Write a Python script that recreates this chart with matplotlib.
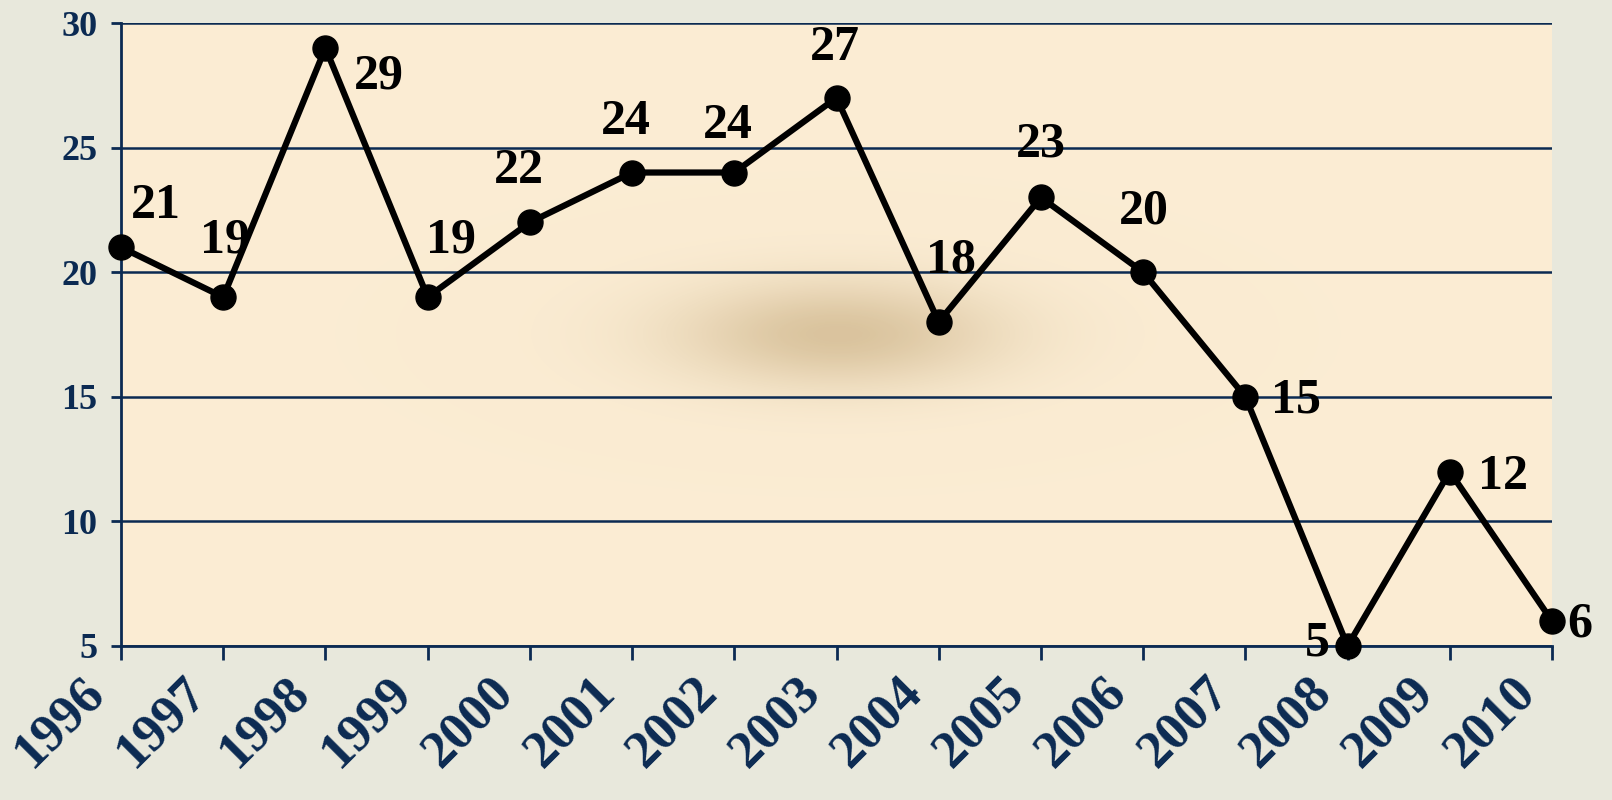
import numpy as np
import matplotlib
matplotlib.use('Agg')
from matplotlib import pyplot as plt
from matplotlib.colors import LinearSegmentedColormap
from matplotlib.transforms import ScaledTranslation

# data
years = [1996, 1997, 1998, 1999, 2000, 2001, 2002, 2003, 2004, 2005, 2006, 2007, 2008, 2009, 2010]
values = [21, 19, 29, 19, 22, 24, 24, 27, 18, 23, 20, 15, 5, 12, 6]
y_ticks = [5, 10, 15, 20, 25, 30]

# label offsets in pixels (dx, dy)
label_offsets = [(35, 41), (2, 57), (53, -29), (23, 57), (-11, 51), (-6, 51), (-6, 47),
                 (-2, 50), (12, 62), (0, 53), (1, 61), (51, -4), (-30, 2), (53, -5), (28, -3)]

navy = '#0b2a52'
plt.rcParams['font.family'] = ['Liberation Serif', 'DejaVu Serif']

fig = plt.figure(figsize=(16.12, 8), dpi=100, facecolor='#e8e8dc')
ax = fig.add_axes([121/1612, 1 - 646/800, (1552-121)/1612, (646-23)/800])
ax.set_facecolor('#fbecd3')

# soft shadow blob in the middle of the plot area
gx, gy = np.meshgrid(np.linspace(0, 1, 300), np.linspace(0, 1, 150))
cx, cy = (838-121)/1431, 1 - (334-23)/623
blob = np.exp(-(((gx-cx)/0.16)**2 + ((gy-cy)/0.12)**2))
cmap = LinearSegmentedColormap.from_list('blob', [(0.98, 0.93, 0.83, 0.0), (0.80, 0.70, 0.53, 0.7)])
ax.imshow(blob, extent=[0, 1, 0, 1], transform=ax.transAxes, origin='lower',
          cmap=cmap, aspect='auto', zorder=0, interpolation='bilinear')

ax.plot(years, values, color='black', lw=4.5, marker='o', markersize=18,
        solid_joinstyle='round', clip_on=False, zorder=5)

for x, v, (dx, dy) in zip(years, values, label_offsets):
    ax.annotate(str(v), (x, v), xytext=(dx, dy), textcoords='offset pixels',
                ha='center', va='center', fontsize=36, fontweight='bold',
                color='black', zorder=6, annotation_clip=False)

ax.set_xlim(1996, 2010)
ax.set_ylim(5, 30)
ax.set_yticks(y_ticks)
ax.set_xticks(years)
ax.set_xticklabels([str(y) for y in years], rotation=45, ha='right',
                   rotation_mode='anchor', fontsize=38, fontweight='bold', color=navy)
ax.set_yticklabels([str(t) for t in y_ticks], fontsize=26, fontweight='bold', color=navy)
ax.tick_params(axis='x', direction='out', length=10, width=2, color=navy, pad=6)
ax.tick_params(axis='y', direction='out', length=7, width=2, color=navy, pad=10)
shift = ScaledTranslation(-0.41, 0.0, fig.dpi_scale_trans)
for lbl in ax.get_xticklabels():
    lbl.set_transform(lbl.get_transform() + shift)
ax.grid(axis='y', color=navy, lw=1.8, zorder=1)
ax.set_axisbelow(True)
for s in ['top', 'right']:
    ax.spines[s].set_visible(False)
for s in ['left', 'bottom']:
    ax.spines[s].set_color(navy)
    ax.spines[s].set_linewidth(2)

plt.savefig('out.png', dpi=100, facecolor=fig.get_facecolor())
